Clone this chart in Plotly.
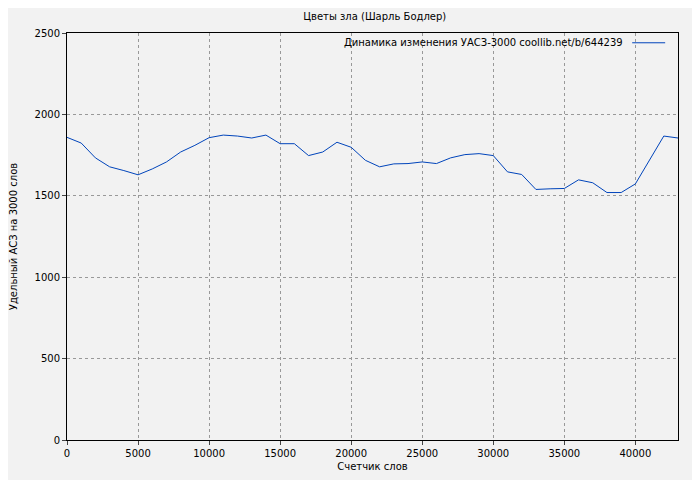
import plotly.graph_objs as go

words = list(range(0, 44000, 1000))
values = [1859, 1824, 1733, 1678, 1655, 1629, 1665, 1708, 1769, 1810,
          1857, 1873, 1867, 1855, 1873, 1820, 1820, 1747, 1769, 1829,
          1798, 1718, 1678, 1696, 1698, 1708, 1698, 1733, 1753, 1759,
          1747, 1647, 1631, 1539, 1543, 1545, 1598, 1580, 1520, 1520,
          1573, 1722, 1867, 1855]
line_color = '#0044bb'
legend_text = 'Динамика изменения УАСЗ-3000 coollib.net/b/644239'

fig = go.Figure()
fig.add_trace(go.Scatter(x=words, y=values, mode='lines',
                         line=dict(color=line_color, width=1),
                         showlegend=False))

axis = dict(showline=True, linecolor='black', linewidth=1, mirror=True,
            gridcolor='#999999', griddash='dot', gridwidth=1,
            ticks='outside', ticklen=4, zeroline=False, automargin=False,
            tickformat='d', tickfont=dict(size=10, color='black'))

# legend: text with sample line on the right, like the original
fig.add_annotation(text=legend_text, xref='paper', yref='paper',
                   x=0.913, y=0.976, xanchor='right', yanchor='middle',
                   showarrow=False, font=dict(size=10))
fig.add_shape(type='line', xref='paper', yref='paper',
              x0=0.925, x1=0.979, y0=0.976, y1=0.976,
              line=dict(color=line_color, width=1))

fig.update_layout(
    width=692, height=472,
    margin=dict(l=59, r=22, t=25, b=40),
    paper_bgcolor='#f2f2f2', plot_bgcolor='#f2f2f2',
    font=dict(family='DejaVu Sans', size=10, color='black'),
    title=dict(text='Цветы зла (Шарль Бодлер)', x=0.53, y=0.983,
               xanchor='center', yanchor='middle', font=dict(size=10)),
    xaxis=dict(axis, range=[0, 43000], dtick=5000,
               title=dict(text='Счетчик слов', standoff=4, font=dict(size=10))),
    yaxis=dict(axis, range=[0, 2500], dtick=500,
               title=dict(text='Удельный АСЗ на 3000 слов', standoff=18, font=dict(size=10))),
)

fig.write_html("out.html")
